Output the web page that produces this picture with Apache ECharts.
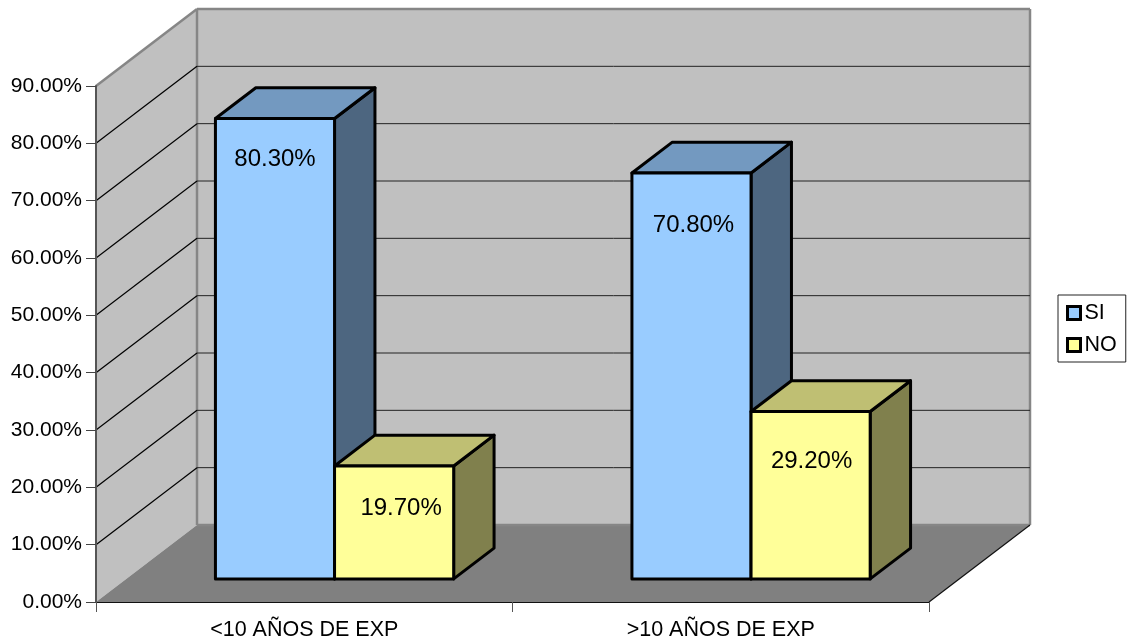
<!DOCTYPE html>
<html>
<head>
<meta charset="utf-8">
<style>html,body{margin:0;padding:0;background:#fff}#chart{width:1129px;height:642px}</style>
<script src="https://cdn.jsdelivr.net/npm/echarts@6/dist/echarts.min.js"></script>
</head>
<body>
<div id="chart"></div>
<script>
const categories = ['<10 AÑOS DE EXP', '>10 AÑOS DE EXP'];
const si = [80.3, 70.8];
const no = [19.7, 29.2];
const yTicks = [0, 10, 20, 30, 40, 50, 60, 70, 80, 90];

// Oblique projection of the depth axis, in pixels from front to back.
const DEPTH_X = 101, DEPTH_Y = 77;
const BAR_NEAR = 0.3, BAR_FAR = 0.7;
const BAR_RATIO = 0.286;
const FONT = '"Liberation Sans", Arial, sans-serif';

// Text anchor of each value label, relative to the front face's top centre.
const siLabelShift = [[0, 41], [2, 52]];
const noLabelShift = [[7, 42], [1, 50]];

const percent = v => v.toFixed(2) + '%';
const poly = (points, fill, stroke, lineWidth) => ({
  type: 'polygon',
  shape: { points },
  style: { fill, stroke: stroke || null, lineWidth: lineWidth || 0, lineJoin: 'round' }
});
const seg = (a, b, stroke, lineWidth) => ({
  type: 'line',
  shape: { x1: a[0], y1: a[1], x2: b[0], y2: b[1] },
  style: { stroke, lineWidth }
});

// Walls and floor, with one gridline per tick across the side and back walls.
function renderWall(params, api) {
  const cs = params.coordSys;
  const tick = api.value(0);
  const y = api.coord([0, tick])[1];
  const left = cs.x, right = cs.x + cs.width, top = cs.y, bottom = cs.y + cs.height;
  const back = p => [p[0] + DEPTH_X, p[1] - DEPTH_Y];
  const children = [];
  if (tick === yTicks[0]) {
    const edge = '#868686';
    children.push(
      poly([[left, top], back([left, top]), back([left, bottom]), [left, bottom]], '#C0C0C0'),
      poly([back([left, top]), back([right, top]), back([right, bottom]), back([left, bottom])], '#C0C0C0'),
      poly([[left, bottom], back([left, bottom]), back([right, bottom]), [right, bottom]], '#808080'),
      seg(back([left, top]), back([left, bottom]), edge, 2.5),
      seg(back([left, bottom]), back([right, bottom]), edge, 2.5),
      seg(back([right, top]), back([right, bottom]), edge, 2.5),
      seg(back([left, top]), back([right, top]), edge, 2.5),
      seg([left, top], back([left, top]), edge, 2.5),
      seg([right, bottom], back([right, bottom]), '#111', 1.2)
    );
  } else if (tick !== yTicks[yTicks.length - 1]) {
    children.push(
      seg([left, y], back([left, y]), '#000', 1.2),
      seg(back([left, y]), back([right, y]), '#222', 1)
    );
  }
  return { type: 'group', children };
}

// Builds one box per category; side selects the left or right slot in the band.
function boxRenderer(side, face, topFace, sideFace, labelShift) {
  return function (params, api) {
    const i = api.value(0), v = api.value(1);
    const band = api.size([1, 0])[0];
    const w = band * BAR_RATIO;
    const cx = api.coord([i, 0])[0];
    const base = api.coord([i, 0])[1];
    const head = api.coord([i, v])[1];
    const x0 = cx + (side === 0 ? -w : 0) + DEPTH_X * BAR_NEAR;
    const x1 = x0 + w;
    const yb = base - DEPTH_Y * BAR_NEAR;
    const yt = head - DEPTH_Y * BAR_NEAR;
    const dx = DEPTH_X * (BAR_FAR - BAR_NEAR), dy = DEPTH_Y * (BAR_FAR - BAR_NEAR);
    const lw = 3;
    const shift = labelShift[i];
    return {
      type: 'group',
      children: [
        poly([[x1, yt], [x1 + dx, yt - dy], [x1 + dx, yb - dy], [x1, yb]], sideFace, '#000', lw),
        poly([[x0, yt], [x0 + dx, yt - dy], [x1 + dx, yt - dy], [x1, yt]], topFace, '#000', lw),
        poly([[x0, yt], [x1, yt], [x1, yb], [x0, yb]], face, '#000', lw),
        {
          type: 'text',
          style: {
            text: percent(v),
            x: (x0 + x1) / 2 + shift[0],
            y: yt + shift[1],
            align: 'center',
            verticalAlign: 'middle',
            fill: '#000',
            font: '24px ' + FONT
          }
        }
      ]
    };
  };
}

const chart = echarts.init(document.getElementById('chart'), null, { renderer: 'canvas' });
chart.setOption({
  animation: false,
  backgroundColor: '#fff',
  textStyle: { fontFamily: FONT },
  grid: { left: 96, top: 86, width: 833, height: 516, containLabel: false },
  legend: {
    data: ['SI', 'NO'],
    orient: 'vertical',
    left: 1058,
    top: 295,
    padding: [7, 9, 6, 8],
    itemWidth: 13,
    itemHeight: 13,
    itemGap: 10,
    icon: 'rect',
    borderColor: '#222',
    borderWidth: 1,
    backgroundColor: '#fff',
    inactiveColor: '#000',
    selectedMode: false,
    textStyle: { fontSize: 21.5, color: '#000', fontFamily: FONT, padding: [0, 0, 0, -1] },
    itemStyle: { borderColor: '#000', borderWidth: 3 }
  },
  xAxis: {
    type: 'category',
    data: categories,
    z: 10,
    boundaryGap: true,
    axisLine: { lineStyle: { color: '#111', width: 1.2 } },
    axisTick: { show: true, length: 10, alignWithLabel: false, lineStyle: { color: '#555', width: 1 } },
    axisLabel: { color: '#000', fontSize: 21.5, margin: 17, fontFamily: FONT, interval: 0 }
  },
  yAxis: {
    type: 'value',
    min: 0,
    max: 90,
    interval: 10,
    z: 10,
    splitLine: { show: false },
    axisLine: { show: true, lineStyle: { color: '#555', width: 2 } },
    axisTick: { show: true, length: 10, lineStyle: { color: '#444', width: 1 } },
    axisLabel: { color: '#000', fontSize: 21, margin: 14, fontFamily: FONT, formatter: v => percent(v) }
  },
  series: [
    {
      type: 'custom',
      name: 'walls',
      z: 1,
      silent: true,
      coordinateSystem: 'cartesian2d',
      renderItem: (params, api) => renderWall(params, {
        value: () => api.value(1),
        coord: api.coord
      }),
      encode: { x: 0, y: 1 },
      data: yTicks.map(t => [0, t])
    },
    {
      type: 'custom',
      name: 'SI',
      z: 3,
      itemStyle: { color: '#99CCFF' },
      renderItem: boxRenderer(0, '#99CCFF', '#7399C0', '#4D6680', siLabelShift),
      encode: { x: 0, y: 1 },
      data: si.map((v, i) => [i, v])
    },
    {
      type: 'custom',
      name: 'NO',
      z: 4,
      itemStyle: { color: '#FFFF99' },
      renderItem: boxRenderer(1, '#FFFF99', '#BFBF73', '#80804D', noLabelShift),
      encode: { x: 0, y: 1 },
      data: no.map((v, i) => [i, v])
    }
  ]
});
</script>
</body>
</html>
